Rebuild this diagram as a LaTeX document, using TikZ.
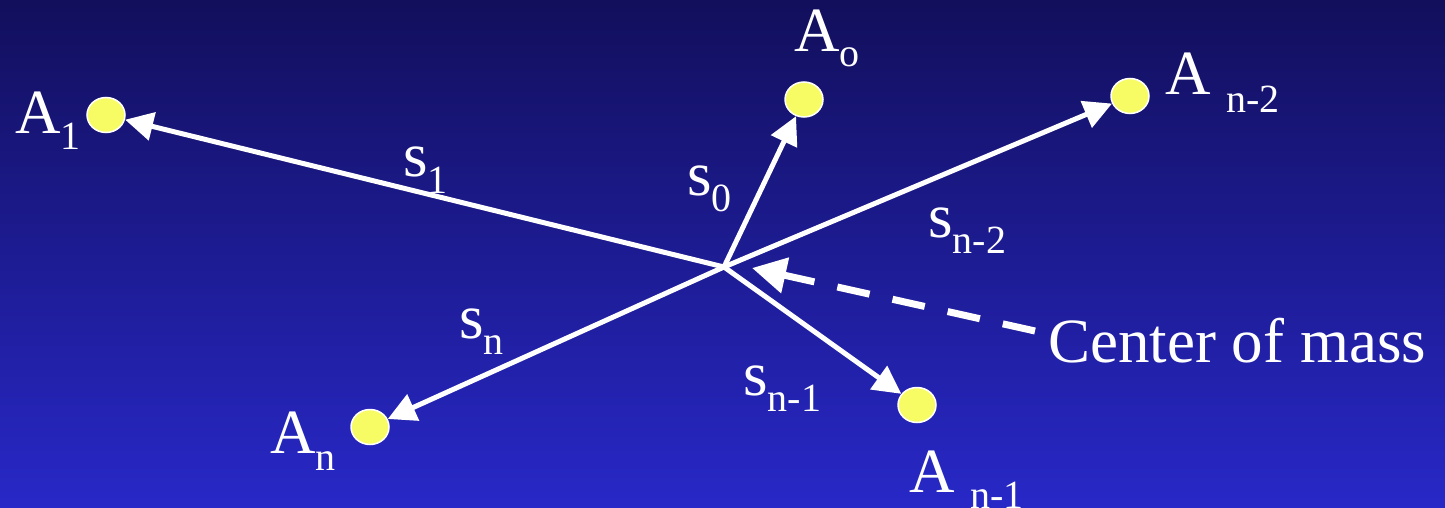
\documentclass[tikz,border=0pt]{standalone}
\usepackage{fontspec}
\setmainfont{Liberation Serif}
\usetikzlibrary{arrows.meta,shapes.geometric}
\definecolor{bgtop}{RGB}{18,15,92}
\definecolor{bgbot}{RGB}{40,40,200}
\definecolor{dotyellow}{RGB}{248,252,100}
\newcommand{\lbsub}[2][-17pt]{\raisebox{#1}{\fontsize{40}{40}\selectfont #2}}
\tikzset{
  massdot/.style={ellipse, draw=white, line width=1.5pt, fill=dotyellow, minimum width=38pt, minimum height=35pt, inner sep=0pt},
  lbl/.style={anchor=base west, inner sep=0pt, text=white, font=\fontsize{63}{70}\selectfont},
  vec/.style={draw=white, line width=5pt, -{Triangle[length=28pt,width=28pt]}},
  cmarrow/.style={draw=white, line width=7pt, dash pattern=on 33pt off 23.5pt, -{Triangle[length=34pt,width=35pt]}}
}
\begin{document}
\begin{tikzpicture}[x=1pt,y=-1pt]
\useasboundingbox (0,0) rectangle (1445,508);
\shade[top color=bgtop, bottom color=bgbot] (0,0) rectangle (1445,508);
% centre and dots
\coordinate (C) at (724,267);
\node[massdot] (A1) at (106,115) {};
\node[massdot] (A0) at (804,99.5) {};
\node[massdot] (An2) at (1130,96) {};
\node[massdot] (An) at (370,427) {};
\node[massdot] (An1) at (917,405) {};
% vectors
\draw[vec] (C) -- (A1);
\draw[vec] (C) -- (A0);
\draw[vec] (C) -- (An2);
\draw[vec] (C) -- (An);
\draw[vec] (C) -- (An1);
% centre of mass arrow
\coordinate (cmtail) at (1035,331);
\coordinate (cmtip) at (752,268);
\draw[cmarrow] (cmtail) -- (cmtip);
% labels
\node[lbl] (lA1) at (15,133) {A\lbsub{1}};
\node[lbl] (lA0) at (794,52) {A\lbsub[-15pt]{o}};
\node[lbl] (lAn2) at (1165,95) {A\ \lbsub[-18pt]{n-2}};
\node[lbl] (lAn) at (270,453) {A\lbsub{n}};
\node[lbl] (lAn1) at (909,492) {A\ \lbsub[-16pt]{n-1}};
\node[lbl] (ls1) at (403,176) {s\lbsub{1}};
\node[lbl] (ls0) at (687,195) {s\lbsub[-16pt]{0}};
\node[lbl] (lsn2) at (928,237) {s\lbsub[-16pt]{n-2}};
\node[lbl] (lsn) at (459,338) {s\lbsub[-16pt]{n}};
\node[lbl] (lsn1) at (743,395) {s\lbsub[-16pt]{n-1}};
\node[lbl] (lcm) at (1048,362) {Center of mass};
\end{tikzpicture}
\end{document}
